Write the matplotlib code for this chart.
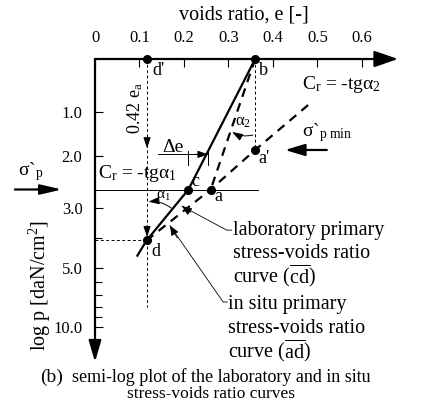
import numpy as np
import matplotlib
matplotlib.use('Agg')
import matplotlib.pyplot as plt
from matplotlib.ticker import FixedLocator, FixedFormatter, NullFormatter

plt.rcParams['font.family'] = 'Liberation Serif'
plt.rcParams['mathtext.fontset'] = 'custom'
plt.rcParams['mathtext.rm'] = 'Liberation Serif'
plt.rcParams['mathtext.it'] = 'Liberation Serif:italic'

# axis ticks
e_ticks = [0, 0.1, 0.2, 0.3, 0.4, 0.5, 0.6]
e_ticklabels = ['0', '0.1', '0.2', '0.3', '0.4', '0.5', '0.6']
p_ticks = [1, 2, 3, 5, 10]
p_ticklabels = ['1.0', '2.0', '3.0', '5.0', '10.0']
p_minor = [4, 6, 7, 8, 9]

# the sketch's hand-drawn (non uniform) log p scale: p -> depth below the e axis
p_knots = [0.4, 1, 2, 3, 4, 5, 6, 7, 8, 9, 10, 12]
depth_knots = [0, 52.7, 96.7, 148.7, 179, 209, 222.7, 236, 247.7, 257.7, 268, 303]

# named points (e, p)
point_names = ["d'", 'b', 'c', 'a', "a'", 'd']
point_e = [0.117, 0.360, 0.210, 0.260, 0.360, 0.116]
point_p = [0.4, 0.4, 2.65, 2.65, 1.87, 4.08]

# laboratory primary curve (solid)
lab_e = [0.360, 0.210, 0.116, 0.094]
lab_p = [0.4, 2.65, 4.08, 4.62]
# in situ curve through a', a, d (dashed)
situ_e = [0.479, 0.360, 0.260, 0.116]
situ_p = [0.924, 1.87, 2.65, 4.08]
# b -> a (dashed)
ba_e = [0.360, 0.260]
ba_p = [0.4, 2.65]

sigma_p = 2.65          # preconsolidation stress level
d_line_bottom = 8.06    # end of the dashed d'-d line


def fwd(p):
    return np.interp(p, p_knots, depth_knots)


def inv(d):
    return np.interp(d, depth_knots, p_knots)


pts = dict(zip(point_names, zip(point_e, point_p)))

fig = plt.figure(figsize=(4.25, 4.13), dpi=100)
ax = fig.add_axes([95 / 425, 51 / 413, 303 / 425, 303 / 413])
ax.set_yscale('function', functions=(fwd, inv))
ax.set_xlim(0, 0.681)
ax.set_ylim(12, 0.4)
for s in ax.spines.values():
    s.set_visible(False)

ax.xaxis.tick_top()
ax.set_xticks(e_ticks)
ax.set_xticklabels(e_ticklabels)
ax.yaxis.set_major_locator(FixedLocator(p_ticks))
ax.yaxis.set_major_formatter(FixedFormatter(p_ticklabels))
ax.yaxis.set_minor_locator(FixedLocator(p_minor))
ax.yaxis.set_minor_formatter(NullFormatter())
ax.tick_params(axis='x', direction='in', length=6, width=0.8, labelsize=12, pad=9)
ax.tick_params(axis='y', which='major', direction='in', length=6, width=0.8, labelsize=12, pad=9)
ax.tick_params(axis='y', which='minor', direction='in', length=5, width=0.8)

# axes drawn as arrows
ax.annotate('', xy=(1.0, 1.0), xytext=(0.0, 1.0), xycoords='axes fraction',
            arrowprops=dict(arrowstyle='-|>,head_length=1.45,head_width=0.5', mutation_scale=10,
                            color='k', lw=1.6, shrinkA=0, shrinkB=0))
ax.annotate('', xy=(0.0, 0.0), xytext=(0.0, 1.0), xycoords='axes fraction',
            arrowprops=dict(arrowstyle='-|>,head_length=1.3,head_width=0.38', mutation_scale=10,
                            color='k', lw=1.6, shrinkA=0, shrinkB=0))

# thin dashed construction lines
thin = dict(color='k', lw=0.7, ls=(0, (3, 2.5)))
ax.plot([pts["d'"][0], pts["d'"][0]], [pts["d'"][1], d_line_bottom], **thin)
ax.plot([pts['b'][0], pts['b'][0]], [pts['b'][1], pts["a'"][1]], **thin)
ax.plot([0, pts['d'][0]], [pts['d'][1], pts['d'][1]], **thin)

# sigma'_p horizontal
ax.plot([0, 0.366], [sigma_p, sigma_p], color='k', lw=0.7)

# curves
ax.plot(lab_e, lab_p, color='k', lw=1.6, solid_capstyle='butt')
ax.plot(situ_e, situ_p, color='k', lw=1.6, ls=(0, (4, 3)))
ax.plot(ba_e, ba_p, color='k', lw=1.6, ls=(0, (4, 3)))

ax.plot(point_e, point_p, 'o', ms=5.5, color='k', ls='none', clip_on=False, zorder=5)

label_offsets = {"d'": (3.6, -8), 'b': (2.4, -8.6), 'c': (2.4, 6), 'a': (2.9, -4.8),
                 "a'": (2.5, -5.8), 'd': (3.6, -8)}
for n in point_names:
    ax.annotate(n, xy=pts[n], xytext=label_offsets[n], textcoords='offset points',
                ha='left', va='center', fontsize=13)

# arrows on the d'-d line
small_head = dict(arrowstyle='-|>,head_length=0.65,head_width=0.22', mutation_scale=10,
                  color='k', lw=0.7, shrinkA=0, shrinkB=0)
ax.annotate('', xy=(pts["d'"][0], 1.83), xytext=(pts["d'"][0], 1.6), arrowprops=small_head)
ax.annotate('', xy=(pts["d'"][0], 3.97), xytext=(pts["d'"][0], 3.6), arrowprops=small_head)
ax.text(0.091, 0.958, '0.42 e$_\\mathrm{a}$', rotation=90, ha='center', va='center', fontsize=13)

# delta e
ax.plot([0.142, 0.255], [1.97, 1.97], color='k', lw=0.7)
ax.plot([0.210, 0.210], [1.90, 2.18], color='k', lw=0.7)
ax.plot([0.255, 0.255], [1.88, 2.18], color='k', lw=0.7)
ax.annotate('', xy=(0.255, 1.97), xytext=(0.225, 1.97), arrowprops=small_head)
ax.text(0.176, 1.81, 'Δe', ha='center', va='center', fontsize=14)

# angles
ax.annotate('', xy=(0.308, 1.46), xytext=(0.355, 1.53),
            arrowprops=dict(small_head, connectionstyle='arc3,rad=-0.2'))
ax.text(0.333, 1.23, 'α$_2$', ha='center', va='center', fontsize=12)
ax.annotate('', xy=(0.120, 2.885), xytext=(0.172, 3.02),
            arrowprops=dict(small_head, connectionstyle='arc3,rad=0.2'))
ax.text(0.153, 2.79, 'α$_1$', ha='center', va='center', fontsize=11)

ax.text(0.0074, 2.34, 'C$_\\mathrm{r}$ = -tgα$_1$', ha='left', va='center', fontsize=14)
ax.text(0.4645, 0.685, 'C$_\\mathrm{r}$ = -tgα$_2$', ha='left', va='center', fontsize=14)

# sigma'_p min
ax.text(0.4645, 1.48, 'σ`$_\\mathrm{p\\ min}$', ha='left', va='center', fontsize=14)
ax.annotate('', xy=(0.427, 1.87), xytext=(0.521, 1.87),
            arrowprops=dict(arrowstyle='-|>,head_length=1.2,head_width=0.36', mutation_scale=10,
                            color='k', lw=1.6, shrinkA=0, shrinkB=0))

# sigma'_p on the left
ax.text(-0.173, 2.30, 'σ`$_\\mathrm{p}$', ha='left', va='center', fontsize=14)
ax.annotate('', xy=(-0.074, sigma_p), xytext=(-0.18, sigma_p), annotation_clip=False,
            arrowprops=dict(arrowstyle='-|>,head_length=1.3,head_width=0.3', mutation_scale=10,
                            color='k', lw=1.6, shrinkA=0, shrinkB=0))

# leaders and their texts
lead = dict(arrowstyle='-|>,head_length=0.6,head_width=0.25', mutation_scale=10,
            color='k', lw=0.6, shrinkA=0, shrinkB=0)
ax.plot([0.1955, 0.296, 0.307], [2.97, 3.74, 3.74], color='k', lw=0.6)
ax.annotate('', xy=(0.1955, 2.97), xytext=(0.215, 3.15), arrowprops=lead)
ax.plot([0.1685, 0.288, 0.297], [3.59, 7.6, 7.6], color='k', lw=0.6)
ax.annotate('', xy=(0.1685, 3.59), xytext=(0.185, 4.0), arrowprops=lead)

lab_lines = ['laboratory primary', 'stress-voids ratio', 'curve ($\\overline{\\mathrm{cd}}$)']
situ_lines = ['in situ primary', 'stress-voids ratio', 'curve ($\\overline{\\mathrm{ad}}$)']
for i, line in enumerate(lab_lines):
    ax.annotate(line, xy=(0.310, 3.74), xytext=(0, -16.8 * i), textcoords='offset points',
                ha='left', va='center', fontsize=14.5)
for i, line in enumerate(situ_lines):
    ax.annotate(line, xy=(0.299, 7.85), xytext=(0, -16.8 * i), textcoords='offset points',
                ha='left', va='center', fontsize=14.5)

fig.text(244 / 425, 1 - 15 / 413, 'voids ratio, e [-]', ha='center', va='center', fontsize=14.5)
fig.text(40 / 425, 1 - 285 / 413, 'log p [daN/cm$^2$]', rotation=90, ha='center', va='center',
         fontsize=14.5)
fig.text(40 / 425, 1 - 377 / 413, '(b)', ha='left', va='center', fontsize=14)
fig.text(72 / 425, 1 - 377 / 413, 'semi-log plot of the laboratory and in situ', ha='left',
         va='center', fontsize=13)
fig.text(211 / 425, 1 - 394 / 413, 'stress-voids ratio curves', ha='center', va='center',
         fontsize=12.5)

fig.savefig('out.png', dpi=100)
